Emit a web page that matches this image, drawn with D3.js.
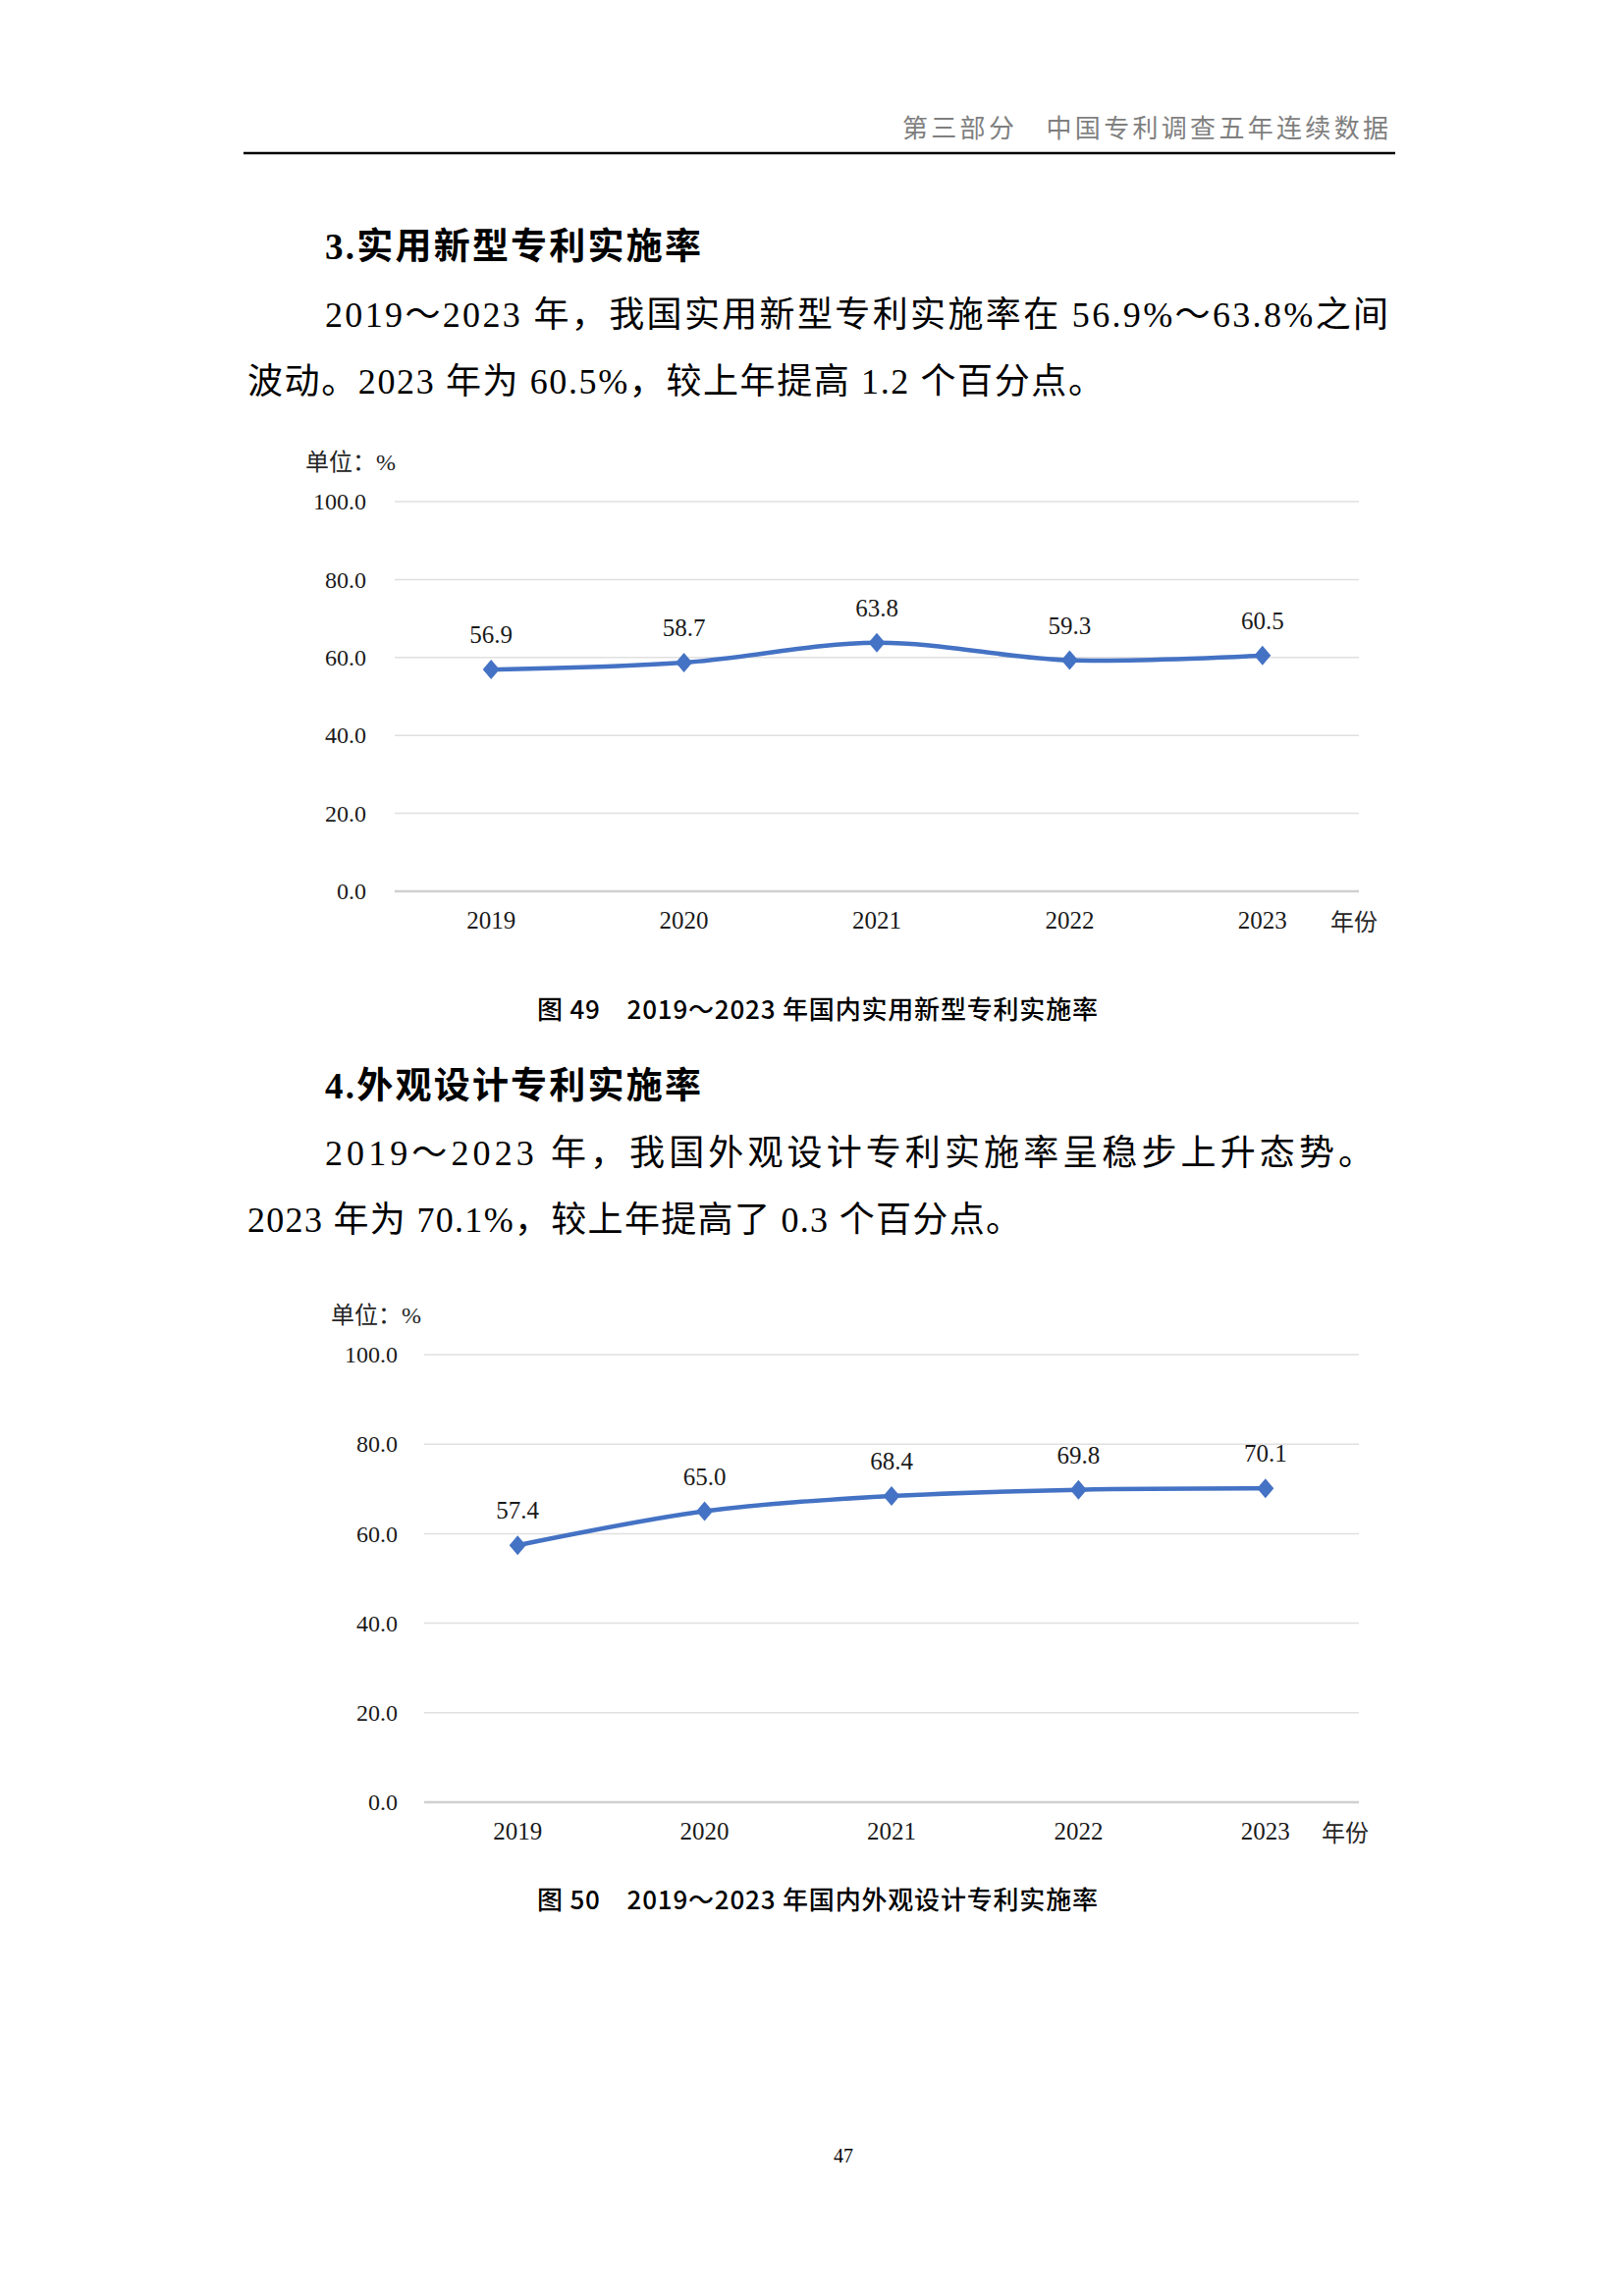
<!DOCTYPE html>
<html>
<head>
<meta charset="utf-8">
<script src="https://cdn.jsdelivr.net/npm/d3@7"></script>
<style>
  body { margin: 0; background: #fff; }
  svg { display: block; }
</style>
</head>
<body>
<svg id="page"></svg>
<script>
// ---- data
var years = ["2019", "2020", "2021", "2022", "2023"];
var utilityRates = [56.9, 58.7, 63.8, 59.3, 60.5];
var designRates = [57.4, 65.0, 68.4, 69.8, 70.1];
var yTicks = [0, 20, 40, 60, 80, 100];

var serif = "'Liberation Serif', 'Noto Sans CJK SC', serif";
var cjk = "'Noto Sans CJK SC', sans-serif";

var W = 1654, H = 2339;
var svg = d3.select("#page").attr("width", W).attr("height", H);

// ---- page header
svg.append("text")
  .attr("x", 919).attr("y", 140)
  .attr("textLength", 495).attr("lengthAdjust", "spacing")
  .style("font-family", cjk).style("font-size", "26px").style("fill", "#7f7f7f")
  .text("第三部分　中国专利调查五年连续数据");
svg.append("line")
  .attr("x1", 248).attr("x2", 1421).attr("y1", 156).attr("y2", 156)
  .style("stroke", "#000").style("stroke-width", 2.5);

// ---- text blocks
function heading(txt, y) {
  svg.append("text").attr("x", 331).attr("y", y)
    .attr("textLength", 383).attr("lengthAdjust", "spacing")
    .style("font-family", serif).style("font-size", "37px").style("font-weight", "bold")
    .text(txt);
}
function para(txt, x, y, len) {
  svg.append("text").attr("x", x).attr("y", y)
    .attr("textLength", len).attr("lengthAdjust", "spacing")
    .style("font-family", serif).style("font-size", "36px")
    .text(txt);
}

heading("3.实用新型专利实施率", 264);
para("2019～2023 年，我国实用新型专利实施率在 56.9%～63.8%之间", 331, 333, 1083);
para("波动。2023 年为 60.5%，较上年提高 1.2 个百分点。", 252, 401, 872);

heading("4.外观设计专利实施率", 1119);
para("2019～2023 年，我国外观设计专利实施率呈稳步上升态势。", 331, 1187, 1068);
para("2023 年为 70.1%，较上年提高了 0.3 个百分点。", 252, 1255, 788);

// Excel-style diamond marker, a bit taller than wide
var excelDiamond = {
  draw: function(ctx, size) {
    var w = 8.5, h = 10;
    ctx.moveTo(0, -h); ctx.lineTo(w, 0); ctx.lineTo(0, h); ctx.lineTo(-w, 0); ctx.closePath();
  }
};

// ---- chart
function drawChart(cfg) {
  var x = d3.scaleBand().domain(years).range([cfg.left, cfg.right]);
  var y = d3.scaleLinear().domain([0, 100]).range([cfg.bottom, cfg.top]);
  var g = svg.append("g");

  g.append("text").attr("x", cfg.unitX).attr("y", cfg.top - 32)
    .style("font-family", serif).style("font-size", "24px").style("fill", "#262626")
    .text("单位：%");

  // grid
  g.selectAll(".grid").data(yTicks).enter().append("line")
    .attr("x1", cfg.left).attr("x2", cfg.right)
    .attr("y1", d => y(d)).attr("y2", d => y(d))
    .style("stroke", d => d === 0 ? "#d0d0d0" : "#e0e0e0")
    .style("stroke-width", d => d === 0 ? 2.5 : 1.5);

  var yAxis = d3.axisLeft(y).tickValues(yTicks).tickFormat(d3.format(".1f")).tickSize(0).tickPadding(0);
  var ya = g.append("g").attr("transform", "translate(" + cfg.labelRight + ",0)").call(yAxis);
  ya.select(".domain").remove();
  ya.selectAll("text").style("font-family", serif).style("font-size", "24px").style("fill", "#1a1a1a");

  var xAxis = d3.axisBottom(x).tickSize(0).tickPadding(0);
  var xa = g.append("g").attr("transform", "translate(0," + (cfg.bottom + 20) + ")").call(xAxis);
  xa.select(".domain").remove();
  xa.selectAll("text").style("font-family", serif).style("font-size", "25px").style("fill", "#1a1a1a");

  g.append("text").attr("x", cfg.yearX).attr("y", cfg.bottom + 40)
    .style("font-family", serif).style("font-size", "24px").style("fill", "#262626")
    .text("年份");

  var pts = years.map((yr, i) => [x(yr) + x.bandwidth() / 2, y(cfg.values[i])]);
  var line = d3.line().curve(d3.curveCatmullRom.alpha(0.5));
  g.append("path").attr("d", line(pts))
    .style("fill", "none").style("stroke", "#4472c4").style("stroke-width", 4.5);

  var diamond = d3.symbol().type(excelDiamond);
  g.selectAll(".pt").data(pts).enter().append("path")
    .attr("d", diamond)
    .attr("transform", d => "translate(" + d[0] + "," + d[1] + ")")
    .style("fill", "#4472c4");

  g.selectAll(".lbl").data(cfg.values).enter().append("text")
    .attr("x", (d, i) => pts[i][0])
    .attr("y", (d, i) => pts[i][1] - 27)
    .attr("text-anchor", "middle")
    .style("font-family", serif).style("font-size", "25px").style("fill", "#1a1a1a")
    .text(d => d.toFixed(1));

  g.append("text").attr("x", 547).attr("y", cfg.captionY)
    .attr("textLength", 571).attr("lengthAdjust", "spacing")
    .style("font-family", cjk).style("font-size", "26px").style("font-weight", "500")
    .text(cfg.caption);
}

drawChart({
  values: utilityRates, left: 402, right: 1384, top: 511, bottom: 908,
  labelRight: 373, unitX: 311, yearX: 1355, captionY: 1038,
  caption: "图 49　2019～2023 年国内实用新型专利实施率"
});
drawChart({
  values: designRates, left: 432, right: 1384, top: 1380, bottom: 1836,
  labelRight: 405, unitX: 337, yearX: 1346, captionY: 1945,
  caption: "图 50　2019～2023 年国内外观设计专利实施率"
});

// ---- page number
svg.append("text").attr("x", 859).attr("y", 2203).attr("text-anchor", "middle")
  .style("font-family", serif).style("font-size", "20px")
  .text("47");
</script>
</body>
</html>
